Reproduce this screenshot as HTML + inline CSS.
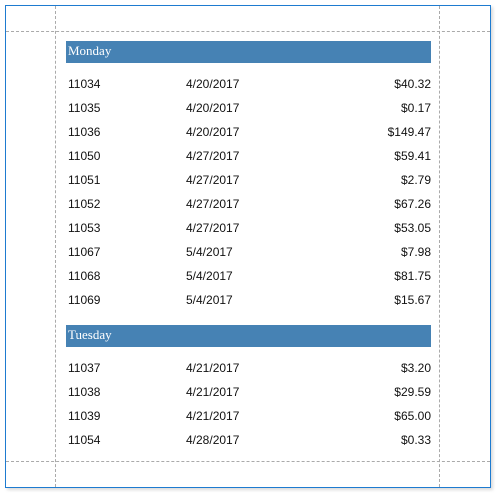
<!DOCTYPE html>
<html><head><meta charset="utf-8"><style>
body{margin:0;width:496px;height:496px;background:#fff;position:relative;overflow:hidden;font-family:"Liberation Sans",sans-serif;}
.frame{position:absolute;left:5px;top:5px;width:484px;height:481px;border:1px solid #1e7bd0;box-shadow:2px 2px 3px rgba(0,0,0,.15);}
.vl{position:absolute;top:6px;height:481px;border-left:1px dashed #aaa;}
.hl{position:absolute;left:6px;width:484px;border-top:1px dashed #aaa;}
.hdr{position:absolute;left:66px;width:365px;height:22px;background:#4682b4;color:#fff;font-family:"Liberation Serif",serif;font-size:13px;line-height:20px;padding-left:2px;box-sizing:border-box;}
.row{position:absolute;left:68px;width:363px;height:16px;font-size:12px;color:#111;line-height:16px;}
.row span{position:absolute;}
.c2{left:118px;}.c3{right:0;}
</style></head><body>
<div class="frame"></div>
<div class="vl" style="left:55px"></div>
<div class="vl" style="left:439px"></div>
<div class="hl" style="top:31px"></div>
<div class="hl" style="top:461px"></div>
<div id="c"></div>
<script>
const groups=["Monday","Tuesday"];
const ids=[["11034","11035","11036","11050","11051","11052","11053","11067","11068","11069"],["11037","11038","11039","11054"]];
const dates=[["4/20/2017","4/20/2017","4/20/2017","4/27/2017","4/27/2017","4/27/2017","4/27/2017","5/4/2017","5/4/2017","5/4/2017"],["4/21/2017","4/21/2017","4/21/2017","4/28/2017"]];
const amounts=[["$40.32","$0.17","$149.47","$59.41","$2.79","$67.26","$53.05","$7.98","$81.75","$15.67"],["$3.20","$29.59","$65.00","$0.33"]];
const c=document.getElementById('c');
let y=41;
groups.forEach((g,gi)=>{
 const h=document.createElement('div');h.className='hdr';h.style.top=y+'px';h.textContent=g;
 
 
 c.appendChild(h);
 let ry=y+35;
 ids[gi].forEach((id,i)=>{
  const r=document.createElement('div');r.className='row';r.style.top=(ry+i*24)+'px';
  
  
  r.innerHTML='<span class="c1">'+id+'</span><span class="c2">'+dates[gi][i]+'</span><span class="c3">'+amounts[gi][i]+'</span>';
  c.appendChild(r);
 });
 y=ry+ids[gi].length*24+9;
});
</script>
</body></html>
